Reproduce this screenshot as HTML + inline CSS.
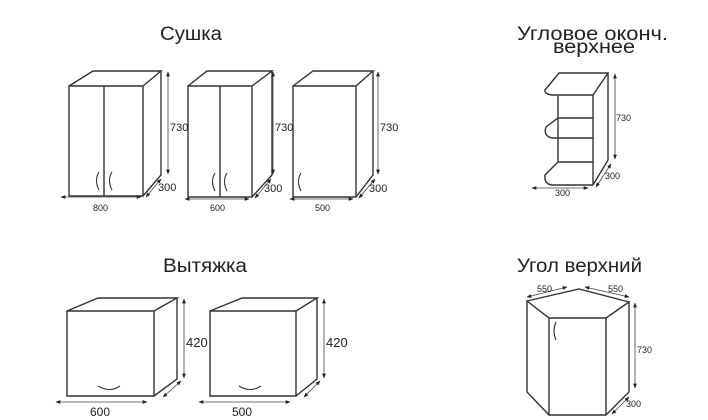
<!DOCTYPE html>
<html><head><meta charset="utf-8"><style>
html,body{margin:0;padding:0;background:#fff;}
svg{display:block;}
text{font-family:"Liberation Sans",Arial,sans-serif;fill:#222;}
.t{font-size:19px;}
.d{font-size:11px;}
.s{font-size:9px;}
</style></head><body>
<svg width="708" height="420" viewBox="0 0 708 420" xmlns="http://www.w3.org/2000/svg">
<defs>
<marker id="a" viewBox="0 0 10 10" refX="9" refY="5" markerWidth="6" markerHeight="6" orient="auto-start-reverse"><path d="M0,1 L10,5 L0,9 z" fill="#222"/></marker>
</defs>
<text class="t" x="160" y="40" textLength="62" lengthAdjust="spacingAndGlyphs">Сушка</text>
<text class="t" x="517" y="40" textLength="151" lengthAdjust="spacingAndGlyphs">Угловое оконч.</text>
<text class="t" x="553" y="53" textLength="82" lengthAdjust="spacingAndGlyphs">верхнее</text>
<text class="t" x="163" y="272" textLength="84" lengthAdjust="spacingAndGlyphs">Вытяжка</text>
<text class="t" x="517" y="272" textLength="125" lengthAdjust="spacingAndGlyphs">Угол верхний</text>

<g fill="none" stroke="#333" stroke-width="1.4">
<path d="M69,86 H143 V196 H69 Z M69,86 L93,71 H161 L143,86 M161,71 V175 L143,196 M104,86 V196"/>
<path d="M99,172 Q94,180 99,190 M112,172 Q107,180 112,190" stroke-width="1.1"/>
<path d="M188,86 H252 V197 H188 Z M188,86 L207,71 H272 L252,86 M272,71 V175 L252,197 M220,86 V197"/>
<path d="M215,173 Q210,181 215,191 M227,173 Q222,181 227,191" stroke-width="1.1"/>
<path d="M293,86 H356 V197 H293 Z M293,86 L313,71 H373 L356,86 M373,71 V175 L356,197"/>
<path d="M301,173 Q296,181 301,191" stroke-width="1.1"/>
<path d="M559,73 H608 L593,95 H552 Q544,94 545,90 Z M608,73 V160 L593,185 M593,95 V185 M558,96 V162 M558,162 H593 M558,138 V118 M593,118 H558 L546,127 Q543,136 552,138 H593 M558,162 L545,175 Q544,184 552,185 H593"/>
<path d="M527,301 L579,289 L629,302 L606,318 H549 Z M527,301 V392 L549,415 H606 L629,392 V302 M549,318 V415 M606,318 V415"/>
<path d="M556,322 Q552,331 556,340" stroke-width="1.1"/>
<path d="M67,311 H154 V396 H67 Z M67,311 L98,298 H177 L154,311 M177,298 V379 L154,396"/>
<path d="M98,386 Q110,393 120,386" stroke-width="1.1"/>
<path d="M210,311 H296 V396 H210 Z M210,311 L242,298 H317 L296,311 M317,298 V379 L296,396"/>
<path d="M239,386 Q250,393 261,386" stroke-width="1.1"/>
</g>

<g stroke="#444" stroke-width="0.8" fill="none" marker-start="url(#a)" marker-end="url(#a)">
<line x1="168" y1="72" x2="168" y2="174"/><line x1="146" y1="197" x2="161" y2="179"/><line x1="61" y1="197" x2="141" y2="197"/>
<line x1="273" y1="72" x2="273" y2="174"/><line x1="255" y1="198" x2="271" y2="179"/><line x1="185" y1="199" x2="249" y2="199"/>
<line x1="378" y1="72" x2="378" y2="174"/><line x1="359" y1="198" x2="375" y2="179"/><line x1="290" y1="199" x2="353" y2="199"/>
<line x1="615" y1="74" x2="615" y2="159"/><line x1="596" y1="187" x2="611" y2="164"/><line x1="532" y1="188" x2="588" y2="188"/>
<line x1="527" y1="297" x2="567" y2="287"/><line x1="585" y1="287" x2="629" y2="297"/><line x1="635" y1="303" x2="635" y2="388"/><line x1="612" y1="414" x2="629" y2="397"/>
<line x1="184" y1="299" x2="184" y2="378"/><line x1="163" y1="397" x2="181" y2="381"/><line x1="56" y1="402" x2="147" y2="402"/>
<line x1="324" y1="299" x2="324" y2="378"/><line x1="304" y1="397" x2="320" y2="381"/><line x1="199" y1="402" x2="290" y2="402"/>
</g>

<g class="s">
<text class="d" x="170" y="131">730</text><text class="d" x="158" y="191">300</text><text x="93" y="211">800</text>
<text class="d" x="275" y="131">730</text><text class="d" x="264" y="192">300</text><text x="210" y="211">600</text>
<text class="d" x="380" y="131">730</text><text class="d" x="369" y="192">300</text><text x="315" y="211">500</text>
<text x="616" y="121">730</text><text x="605" y="179">300</text><text x="555" y="196">300</text>
<text x="537" y="292">550</text><text x="608" y="292">550</text><text x="637" y="353">730</text><text x="626" y="407">300</text>
</g>
<text class="d" x="186" y="347" style="font-size:13px">420</text>
<text class="d" x="326" y="347" style="font-size:13px">420</text>
<text x="90" y="416" style="font-size:12px">600</text>
<text x="232" y="416" style="font-size:12px">500</text>
</svg>
</body></html>
